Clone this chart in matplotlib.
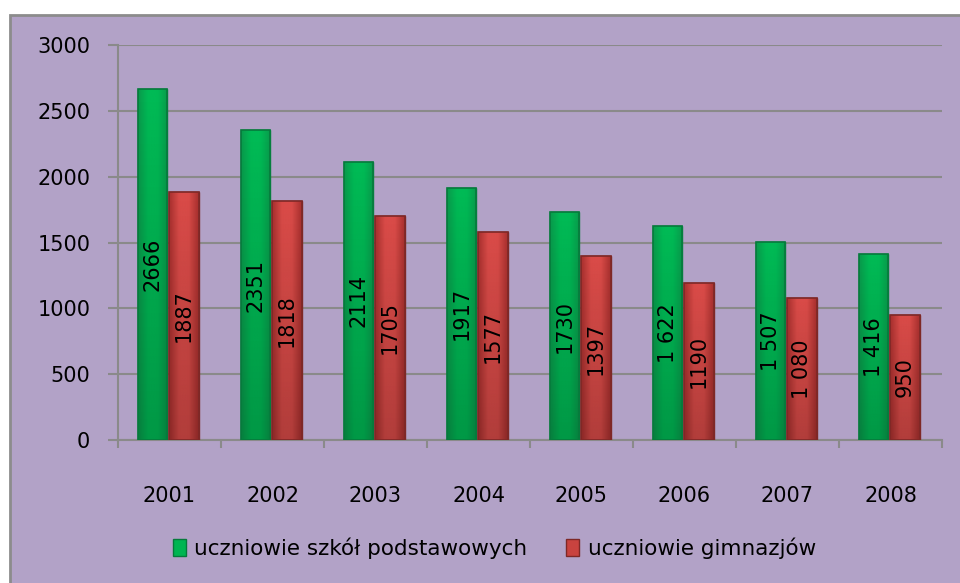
import numpy as np
import matplotlib.pyplot as plt
from matplotlib.patches import Rectangle
from matplotlib.colors import LinearSegmentedColormap

# DATA
years = ["2001", "2002", "2003", "2004", "2005", "2006", "2007", "2008"]
podstawowe = [2666, 2351, 2114, 1917, 1730, 1622, 1507, 1416]
gimnazja = [1887, 1818, 1705, 1577, 1397, 1190, 1080, 950]
labels_gim = ["1887", "1818", "1705", "1577", "1397", "1190", "1 080", "950"]
labels_pod = ["2666", "2351", "2114", "1917", "1730", "1 622", "1 507", "1 416"]
series_names = ["uczniowie szkół podstawowych", "uczniowie gimnazjów"]

BG = "#B2A2C7"
GREEN = "#00B552"
RED = "#C9433F"

fig = plt.figure(figsize=(9.6, 5.83), dpi=100)
fig.patch.set_facecolor("white")
# outer chart frame (runs past right and bottom edge like the original)
fig.patches.append(Rectangle((10/960, -0.05), 1.0, 1-15/583 + 0.05, transform=fig.transFigure,
                             facecolor=BG, edgecolor="#8C8C8C", linewidth=2, zorder=-5))

ax = fig.add_axes([118/960, 1-440/583, 824/960, 395/583])
ax.set_facecolor("none")

x = np.arange(len(years))
w = 0.29
b1 = ax.bar(x - 0.165, podstawowe, w, color=GREEN, edgecolor="#067A3C", linewidth=1, zorder=3,
            label=series_names[0])
b2 = ax.bar(x + 0.14, gimnazja, w, color=RED, edgecolor="#7E2826", linewidth=1, zorder=3,
            label=series_names[1])

# horizontal shading + vertical fade to fake the glossy excel bars
cm_g = LinearSegmentedColormap.from_list("g", ["#0A9A4C", "#00BA55", "#00BA55", "#0A9A4C"])
cm_r = LinearSegmentedColormap.from_list("r", ["#A8302E", "#D94B48", "#D94B48", "#A8302E"])
grad = np.tile(np.linspace(0, 1, 50), (2, 1))
for bars, cm in [(b1, cm_g), (b2, cm_r)]:
    for b in bars:
        x0, h = b.get_x(), b.get_height()
        im = ax.imshow(grad, extent=[x0, x0 + b.get_width(), 0, h], aspect="auto",
                       cmap=cm, zorder=3.1, interpolation="bicubic")
        im.set_clip_path(b)
        # darker towards the bottom
        fade = np.linspace(0, 1, 50).reshape(-1, 1) * np.ones((1, 2))
        sh = ax.imshow(fade, extent=[x0, x0 + b.get_width(), 0, h], aspect="auto",
                       cmap=LinearSegmentedColormap.from_list("s", [(0, 0, 0, 0.18), (0, 0, 0, 0)]),
                       origin="lower", zorder=3.2)
        sh.set_clip_path(b)
        ax.add_patch(Rectangle((x0, 0), b.get_width(), h, facecolor="none",
                               edgecolor=b.get_edgecolor(), linewidth=1.2, zorder=3.3))

for xi, v, t in zip(x - 0.165, podstawowe, labels_pod):
    ax.text(xi, v/2, t, rotation=90, ha="center", va="center", fontsize=15, zorder=4)
for xi, v, t in zip(x + 0.14, gimnazja, labels_gim):
    ax.text(xi, v/2, t, rotation=90, ha="center", va="center", fontsize=15, zorder=4)

ax.set_xlim(-0.5, 7.5)
ax.set_ylim(0, 3000)
ax.set_yticks(range(0, 3001, 500))
ax.yaxis.grid(True, color="#8A8A8A", linewidth=1.5, zorder=1)
ax.set_axisbelow(True)

ax.set_xticks(x)
ax.set_xticklabels(years)
ax.set_xticks(np.arange(-0.5, 8, 1), minor=True)
ax.tick_params(axis="x", which="major", length=0, pad=33, labelsize=15)
ax.tick_params(axis="x", which="minor", length=6, color="#8A8A8A", width=1.5)
ax.tick_params(axis="y", length=7, color="#8A8A8A", width=1.5, pad=13, labelsize=15)

for s in ["top", "right"]:
    ax.spines[s].set_visible(False)
for s in ["left", "bottom"]:
    ax.spines[s].set_color("#8A8A8A")
    ax.spines[s].set_linewidth(1.5)

fig.legend(handles=[b1, b2], loc="center", bbox_to_anchor=(0.515, 1-548/583), ncol=2,
           frameon=False, fontsize=15.5, handlelength=0.6, handleheight=0.8,
           handletextpad=0.4, columnspacing=1.8)

plt.savefig("out.png", dpi=100, facecolor=fig.get_facecolor())
